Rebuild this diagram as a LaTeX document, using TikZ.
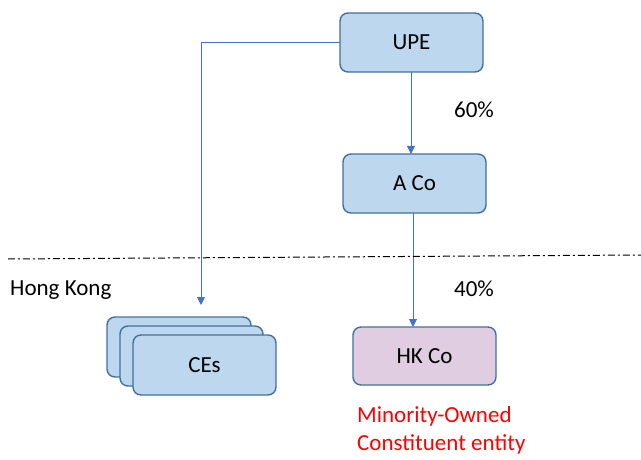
\documentclass[tikz,border=0pt]{standalone}
\usepackage{fontspec}
\setmainfont{Carlito}
\usetikzlibrary{arrows.meta}
\definecolor{boxfill}{HTML}{BDD7EE}
\definecolor{boxline}{HTML}{41719C}
\definecolor{arrline}{HTML}{4472C4}
\definecolor{hkfill}{HTML}{E1CDE1}
\begin{document}
\begin{tikzpicture}[x=1pt,y=-1pt,
  ent/.style={draw=boxline,line width=1.4pt,fill=boxfill,rounded corners=8pt},
  conn/.style={draw=arrline,line width=0.9pt,-{Triangle[width=8pt,length=8pt]}},
  lbl/.style={font=\fontsize{23}{27}\selectfont}]
\useasboundingbox (0,0) rectangle (641,460);
% boxes
\draw[ent] (340,13) rectangle (483,72);
\node[lbl] (upe) at (411.5,42.5) {UPE};
\coordinate (upeS) at (411,72);
\coordinate (upeW) at (340,42);
\draw[ent] (343,154) rectangle (486,213);
\node[lbl] (aco) at (414.5,183.5) {A Co};
\coordinate (acoN) at (411,154);
\coordinate (acoS) at (413,213);
\draw[ent,fill=hkfill] (353,327) rectangle (496,385);
\node[lbl] (hk) at (424.5,356) {HK Co};
\coordinate (hkN) at (413,327);
% CEs stack
\draw[ent] (107,317) rectangle (251,377);
\draw[ent] (120,326) rectangle (263,386);
\draw[ent] (133,335) rectangle (276,395);
\node[lbl] (ces) at (204.5,365) {CEs};
\coordinate (cesN) at (201,305);
% connectors
\draw[conn] (upeS) -- (acoN);
\draw[conn] (acoS) -- (hkN);
\draw[conn] (upeW) -- (201,42) -- (cesN);
% border line
\coordinate (bl) at (8,259);
\coordinate (br) at (641,255);
\draw[black,line width=1pt,dash pattern=on 7pt off 3pt on 2pt off 3pt] (bl) -- (br);
% labels
\node[lbl] (p60) at (474,110) {60\%};
\node[lbl] (p40) at (474,289) {40\%};
\node[lbl,anchor=west,inner sep=0pt] (hkg) at (10,290) {Hong Kong};
\node[font=\fontsize{23}{28}\selectfont,anchor=north west,align=left,text=red,inner sep=0pt] (mo) at (357,406) {Minority-Owned\\Constituent entity};
\end{tikzpicture}
\end{document}
